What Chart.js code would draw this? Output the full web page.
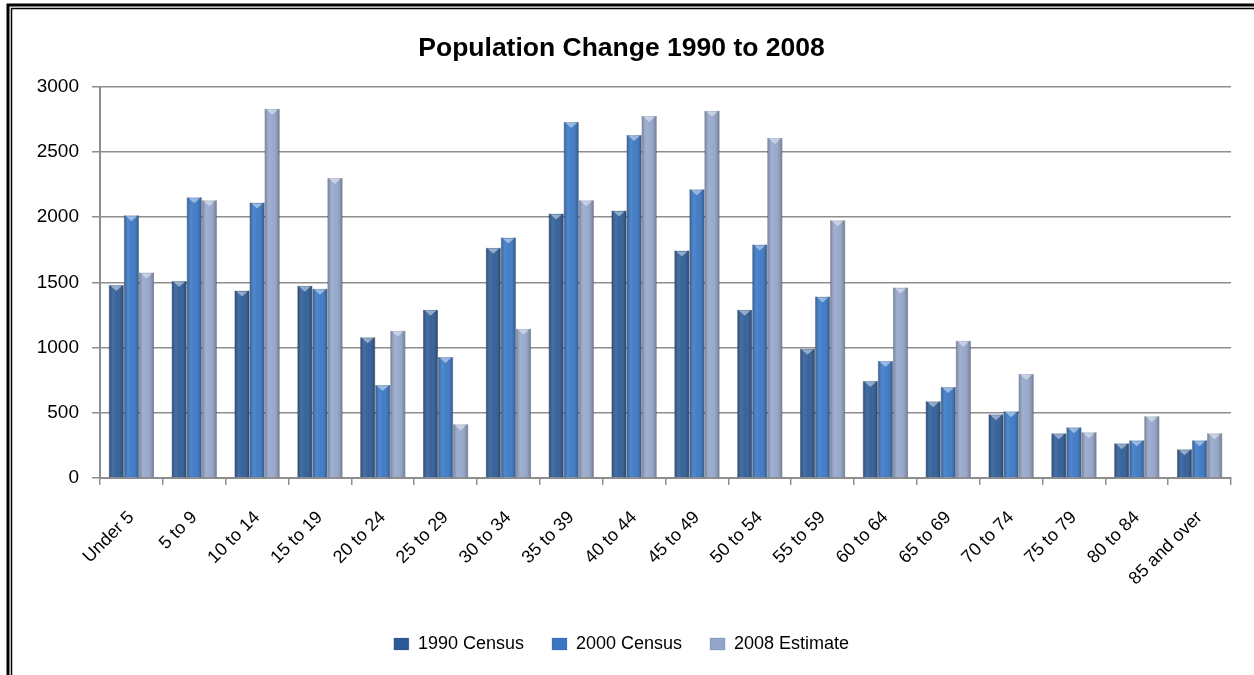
<!DOCTYPE html>
<html>
<head>
<meta charset="utf-8">
<script src="https://cdn.jsdelivr.net/npm/chart.js@4.4.0/dist/chart.umd.min.js"></script>
<style>
    html, body { margin: 0; padding: 0; background: #ffffff; }
    #wrap { width: 1254px; height: 675px; position: relative; }
</style>
</head>
<body>
<div id="wrap"><canvas id="populationChart"></canvas></div>
<script>
// Age groups along the x axis
const ageGroups = ['Under 5', '5 to 9', '10 to 14', '15 to 19', '20 to 24', '25 to 29',
    '30 to 34', '35 to 39', '40 to 44', '45 to 49', '50 to 54', '55 to 59',
    '60 to 64', '65 to 69', '70 to 74', '75 to 79', '80 to 84', '85 and over'];

// Values
const census1990 = [1481, 1511, 1437, 1475, 1080, 1290, 1766, 2028, 2051, 1745, 1290, 992,
    743, 589, 489, 343, 266, 220];
const census2000 = [2015, 2153, 2112, 1452, 713, 928, 1845, 2731, 2631, 2215, 1791, 1391,
    897, 697, 512, 389, 289, 289];
const estimate2008 = [1575, 2130, 2831, 2300, 1129, 412, 1144, 2130, 2777, 2816, 2608, 1976,
    1460, 1052, 797, 351, 474, 343];

const yTicks = [0, 500, 1000, 1500, 2000, 2500, 3000];

const seriesColors = ['#2c5a96', '#3876c4', '#93a5ca'];
const fontName = "'Liberation Sans', Arial, sans-serif";

// white background plus the double frame on the top and left edges
const framePlugin = {
    id: 'frame',
    beforeDraw: function(chart) {
        const ctx = chart.ctx;
        ctx.save();
        ctx.fillStyle = '#ffffff';
        ctx.fillRect(0, 0, chart.width, chart.height);
        ctx.strokeStyle = '#000000';
        ctx.lineWidth = 3;
        ctx.strokeRect(8, 5, chart.width + 100, chart.height + 100);
        ctx.lineWidth = 1.5;
        ctx.strokeRect(11.5, 8.5, chart.width + 100, chart.height + 100);
        ctx.restore();
    }
};

// cylinder-like shading on each bar, like the Excel style
const shadePlugin = {
    id: 'shade',
    afterDatasetsDraw: function(chart) {
        const ctx = chart.ctx;
        ctx.save();
        chart.data.datasets.forEach(function(ds, i) {
            const meta = chart.getDatasetMeta(i);
            meta.data.forEach(function(bar) {
                const left = bar.x - bar.width / 2;
                const right = bar.x + bar.width / 2;
                const top = Math.min(bar.y, bar.base);
                const h = Math.abs(bar.base - bar.y);
                const g = ctx.createLinearGradient(left, 0, right, 0);
                g.addColorStop(0, 'rgba(0,0,0,0.28)');
                g.addColorStop(0.3, 'rgba(255,255,255,0.12)');
                g.addColorStop(0.55, 'rgba(255,255,255,0.05)');
                g.addColorStop(1, 'rgba(0,0,0,0.30)');
                ctx.fillStyle = g;
                ctx.fillRect(left, top, bar.width, h);
                // lighter cap at the top
                ctx.fillStyle = 'rgba(255,255,255,0.45)';
                ctx.beginPath();
                ctx.moveTo(left + 2, top + 1);
                ctx.lineTo(right - 2, top + 1);
                ctx.lineTo(bar.x, top + 6);
                ctx.closePath();
                ctx.fill();
            });
        });
        ctx.restore();
    }
};

function makeDataset(label, values, color) {
    return {
        label: label,
        data: values,
        backgroundColor: color,
        borderColor: 'rgba(40,60,90,0.35)',
        borderWidth: 0.5,
        categoryPercentage: 0.72,
        barPercentage: 1.0
    };
}

document.addEventListener('DOMContentLoaded', function() {
    const ctx = document.getElementById('populationChart').getContext('2d');

    new Chart(ctx, {
        type: 'bar',
        data: {
            labels: ageGroups,
            datasets: [
                makeDataset('1990 Census', census1990, seriesColors[0]),
                makeDataset('2000 Census', census2000, seriesColors[1]),
                makeDataset('2008 Estimate', estimate2008, seriesColors[2])
            ]
        },
        options: {
            responsive: true,
            maintainAspectRatio: false,
            animation: false,
            layout: {
                padding: { left: 12, right: 23, top: 0, bottom: 12 }
            },
            plugins: {
                title: {
                    display: true,
                    text: 'Population Change 1990 to 2008',
                    color: '#000000',
                    font: { family: fontName, size: 26.5, weight: 'bold' },
                    padding: { top: 33, bottom: 22 }
                },
                legend: {
                    position: 'bottom',
                    labels: {
                        color: '#000000',
                        font: { family: fontName, size: 18 },
                        boxWidth: 15,
                        boxHeight: 12,
                        padding: 28
                    }
                },
                tooltip: { enabled: false }
            },
            scales: {
                x: {
                    grid: {
                        display: true,
                        drawOnChartArea: false,
                        drawTicks: true,
                        tickLength: 7,
                        color: '#8e8e8e',
                        lineWidth: 1.5
                    },
                    border: { color: '#8e8e8e', width: 2 },
                    ticks: {
                        color: '#000000',
                        font: { family: fontName, size: 18 },
                        minRotation: 45,
                        maxRotation: 45,
                        autoSkip: false,
                        padding: 22
                    },
                    afterFit: function(scale) {
                        scale.height = 129;
                    }
                },
                y: {
                    min: 0,
                    max: 3000,
                    afterBuildTicks: function(scale) {
                        scale.ticks = yTicks.map(v => ({ value: v }));
                    },
                    grid: {
                        color: '#8e8e8e',
                        lineWidth: 1.5,
                        tickLength: 8
                    },
                    border: { color: '#8e8e8e', width: 2 },
                    ticks: {
                        color: '#000000',
                        font: { family: fontName, size: 19 },
                        padding: 13,
                        callback: function(value) {
                            return String(value);
                        }
                    },
                    afterFit: function(scale) {
                        scale.width = 88;
                    }
                }
            }
        },
        plugins: [framePlugin, shadePlugin]
    });
});
</script>
</body>
</html>
